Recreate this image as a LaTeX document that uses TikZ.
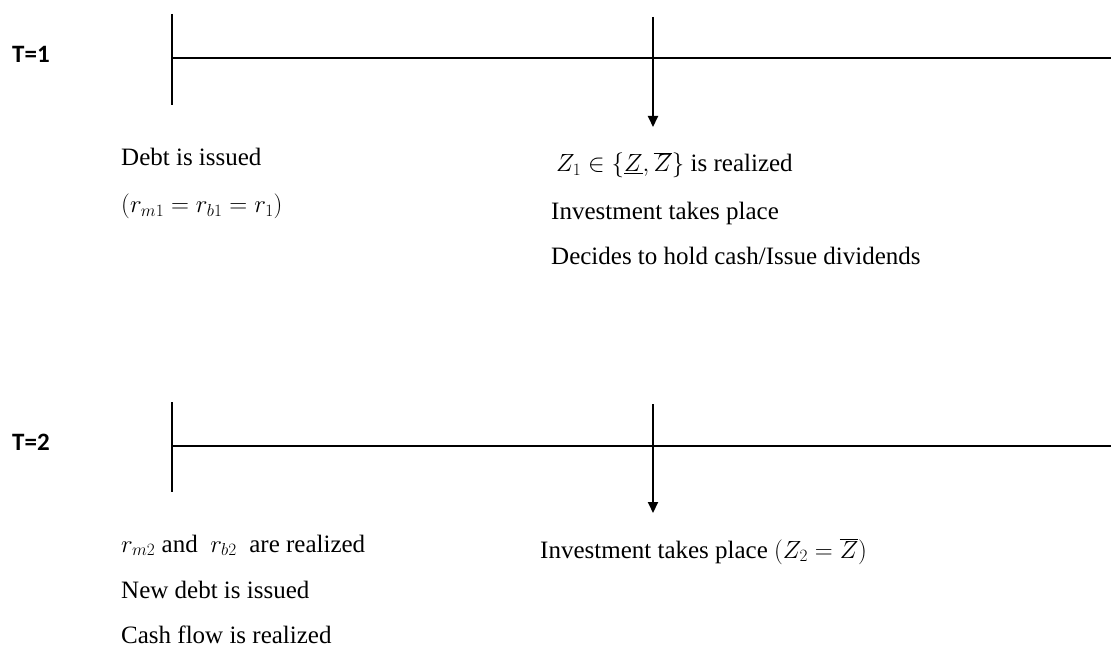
\documentclass[tikz,border=0pt]{standalone}
\usepackage{fontspec}
\setmainfont{Liberation Serif}
\newfontfamily\labfont{Carlito}
\usetikzlibrary{arrows.meta}
\begin{document}
\begin{tikzpicture}[x=1pt,y=-1pt,
  txt/.style={anchor=base west,inner sep=0pt,font=\fontsize{25}{29}\selectfont},
  tlab/.style={anchor=base west,inner sep=0pt,font=\labfont\bfseries\fontsize{25}{29}\selectfont},
  axis/.style={line width=1.3pt},
  tick/.style={line width=1.6pt},
  event/.style={line width=2pt,-{Triangle[length=11pt,width=10pt]}}]
\useasboundingbox (0,0) rectangle (1111,647);
% T=1
\node[tlab] (l1) at (12,63) {T=1};
\coordinate (a1s) at (172,58);
\coordinate (a1e) at (1111,58);
\coordinate (k1t) at (172,14);
\coordinate (k1b) at (172,105);
\coordinate (e1t) at (653,17);
\coordinate (e1b) at (653,127);
\draw[axis] (a1s) -- (a1e);
\draw[tick] (k1t) -- (k1b);
\draw[event] (e1t) -- (e1b);
\node[txt] (d1) at (121,166) {Debt is issued};
\node[txt] (d2) at (121,213) {$(r_{m1}=r_{b1}=r_1)$};
\node[txt] (z1) at (556,172) {$Z_1\in\{\underline{Z},\overline{Z}\}$ is realized};
\node[txt] (i1) at (551,219) {Investment takes place};
\node[txt] (h1) at (551,265) {Decides to hold cash/Issue dividends};
% T=2
\node[tlab] (l2) at (12,450) {T=2};
\coordinate (a2s) at (172,446);
\coordinate (a2e) at (1111,446);
\coordinate (k2t) at (172,402);
\coordinate (k2b) at (172,492);
\coordinate (e2t) at (653,404);
\coordinate (e2b) at (653,513);
\draw[axis] (a2s) -- (a2e);
\draw[tick] (k2t) -- (k2b);
\draw[event] (e2t) -- (e2b);
\node[txt] (r2) at (121,552) {$r_{m2}$ and\ \ $r_{b2}$\ \ are realized};
\node[txt] (n2) at (121,598) {New debt is issued};
\node[txt] (c2) at (121,643) {Cash flow is realized};
\node[txt] (i2) at (540,558) {Investment takes place $(Z_2=\overline{Z})$};
\end{tikzpicture}
\end{document}
